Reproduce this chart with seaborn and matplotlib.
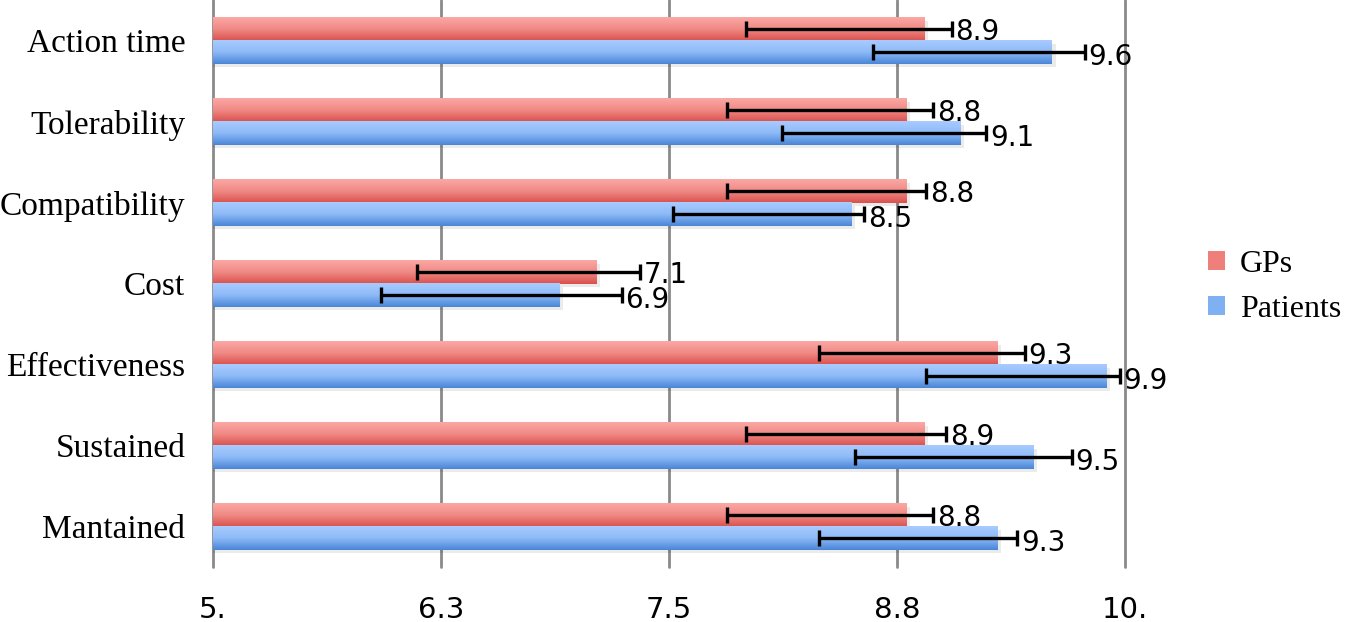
import numpy as np
import pandas as pd
import seaborn as sns
import matplotlib.pyplot as plt
from matplotlib.colors import LinearSegmentedColormap
from matplotlib.patches import Patch

categories = ["Action time", "Tolerability", "Compatibility", "Cost",
              "Effectiveness", "Sustained", "Mantained"]
groups = ["GPs", "Patients"]
gp_mean = [8.9, 8.8, 8.8, 7.1, 9.3, 8.9, 8.8]
pat_mean = [9.6, 9.1, 8.5, 6.9, 9.9, 9.5, 9.3]
gp_low = [7.92, 7.82, 7.82, 6.12, 8.32, 7.92, 7.82]
gp_high = [9.05, 8.95, 8.91, 7.34, 9.45, 9.02, 8.95]
pat_low = [8.62, 8.12, 7.52, 5.92, 8.91, 8.52, 8.32]
pat_high = [9.78, 9.24, 8.57, 7.24, 9.97, 9.71, 9.41]
xticks = [5, 6.25, 7.5, 8.75, 10]
xtick_labels = ["5.", "6.3", "7.5", "8.8", "10."]

df = pd.DataFrame({
    "item": categories * 2,
    "group": [groups[0]] * 7 + [groups[1]] * 7,
    "score": gp_mean + pat_mean,
})

sns.set_style("white")
plt.rcParams["font.family"] = ["Liberation Serif", "DejaVu Serif"]
plt.rcParams["text.color"] = "black"
plt.rcParams["xtick.color"] = "black"
plt.rcParams["ytick.color"] = "black"

fig = plt.figure(figsize=(13.51, 6.22), dpi=100)
ax = fig.add_axes([0.1577, 0.088, 0.675, 0.912])

sns.barplot(data=df, y="item", x="score", hue="group", orient="h",
            palette=["#ee7f7b", "#7fb0f2"], width=0.57, errorbar=None,
            legend=False, ax=ax)

xmin, xmax = 5, 10

# gradient fills
cmaps = [LinearSegmentedColormap.from_list("r", ["#fba8a4", "#f08985", "#d9514d"]),
         LinearSegmentedColormap.from_list("b", ["#a9cbff", "#8dbaf7", "#4a86d6"])]
grad = np.linspace(0, 1, 64).reshape(-1, 1)
lows = [gp_low, pat_low]
highs = [gp_high, pat_high]
bar_sets = list(ax.containers)
for gi, cont in enumerate(bar_sets):
    for i, bar in enumerate(cont):
        x0, y0 = bar.get_x(), bar.get_y()
        w, h = bar.get_width(), bar.get_height()
        xs = max(x0, xmin)
        # soft shadow
        ax.add_patch(plt.Rectangle((xs, y0 + h * 0.15), x0 + w - xs + 0.02, h,
                                   color="#000000", alpha=0.08, lw=0, zorder=1.5))
        bar.set_facecolor("none")
        bar.set_edgecolor("none")
        ax.imshow(grad, extent=[xs, x0 + w, y0 + h, y0], origin="upper",
                  cmap=cmaps[gi], aspect="auto", zorder=2)
        yc = y0 + h / 2
        ax.errorbar(x0 + w, yc,
                    xerr=[[x0 + w - lows[gi][i]], [highs[gi][i] - (x0 + w)]],
                    fmt="none", ecolor="black", elinewidth=2.4, capsize=6,
                    capthick=2.4, zorder=4)
        ax.text(highs[gi][i] + 0.02, yc + 0.04 + 0.02 * gi, f"{w:.1f}",
                ha="left", va="center", fontsize=20, family="DejaVu Sans",
                color="black", zorder=5)

ax.set_xlim(xmin, xmax)
ax.set_ylim(6.5, -0.5)
ax.set_xticks(xticks)
ax.set_xticklabels(xtick_labels, family="DejaVu Sans", fontsize=21)
ax.tick_params(axis="x", length=0, pad=21)
ax.tick_params(axis="y", length=0, pad=20, labelsize=24)
ax.grid(axis="x", color="#8a8a8a", lw=2)
ax.grid(axis="y", visible=False)
for line in ax.get_xgridlines():
    line.set_clip_on(False)
ax.set_axisbelow(True)
for s in ax.spines.values():
    s.set_visible(False)
ax.set_xlabel("")
ax.set_ylabel("")

handles = [Patch(facecolor="#ee7f7b", edgecolor="none"),
           Patch(facecolor="#7fb0f2", edgecolor="none")]
fig.legend(handles, groups, loc="center left", bbox_to_anchor=(0.894, 0.539),
           frameon=False, fontsize=23, handlelength=0.55, handleheight=0.55,
           handletextpad=0.45, labelspacing=0.5, borderpad=0, borderaxespad=0)

fig.savefig("out.png", dpi=100)
